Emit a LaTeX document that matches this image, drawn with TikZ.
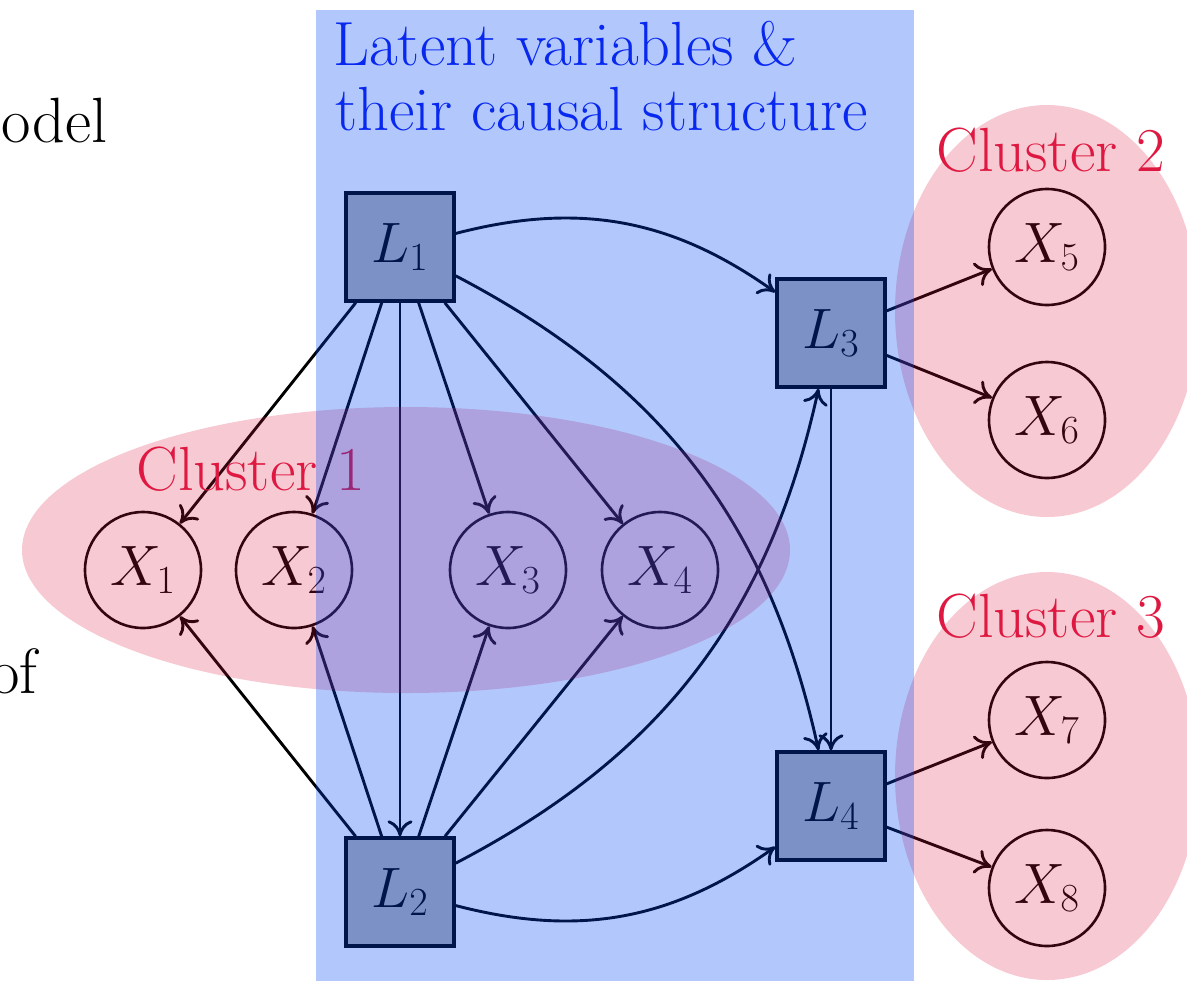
\RequirePackage{fix-cm}
\documentclass[tikz,border=0pt]{standalone}
\usetikzlibrary{arrows.meta}
\definecolor{pinkc}{RGB}{222,24,66}
\definecolor{bluec}{RGB}{0,72,245}
\definecolor{titlec}{RGB}{8,40,240}
\definecolor{clusc}{RGB}{222,24,64}
\begin{document}
\begin{tikzpicture}[x=0.5pt,y=-0.5pt,
  lat/.style={draw=black,fill=black!30,line width=1.7pt,minimum size=54pt,inner sep=0pt,font=\fontsize{28.5}{30}\selectfont},
  obs/.style={circle,draw=black,line width=1.3pt,minimum size=58pt,inner sep=0pt,font=\fontsize{28.5}{30}\selectfont},
  edge/.style={line width=1.45pt,-{Computer Modern Rightarrow[length=8pt,width=12.5pt]}},
  lbl/.style={font=\fontsize{31.2}{32.5}\selectfont,anchor=base west,inner sep=0pt},
  side/.style={font=\fontsize{32}{34}\selectfont,anchor=base east,inner sep=0pt,text=black},
  pinkblob/.style={fill=pinkc,opacity=0.23},
  bluebox/.style={fill=bluec,opacity=0.3}
]
\useasboundingbox (0,0) rectangle (1187,980);
\clip (0,0) rectangle (1187,980);

% side text (cut off at the left)
\node[side] (model) at (108,142) {model};
\node[side] (of) at (38,693) {of};

% latent nodes
\node[lat] (L1) at (400,247) {$L_1$};
\node[lat] (L2) at (400,892) {$L_2$};
\node[lat] (L3) at (831,333) {$L_3$};
\node[lat] (L4) at (831,806) {$L_4$};

% observed nodes
\node[obs] (X1) at (143,570) {$X_1$};
\node[obs] (X2) at (294,570) {$X_2$};
\node[obs] (X3) at (508,570) {$X_3$};
\node[obs] (X4) at (660,570) {$X_4$};
\node[obs] (X5) at (1047,247) {$X_5$};
\node[obs] (X6) at (1047,420) {$X_6$};
\node[obs] (X7) at (1047,720) {$X_7$};
\node[obs] (X8) at (1047,888) {$X_8$};

% edges
\foreach \t in {X1,X2,X3,X4,L2} \draw[edge] (L1) -- (\t);
\foreach \t in {X1,X2,X3,X4} \draw[edge] (L2) -- (\t);
\draw[edge] (L1) to[bend left=25] (L3);
\draw[edge] (L1) to[bend left=25] (L4);
\draw[edge] (L2) to[bend right=25] (L3);
\draw[edge] (L2) to[bend right=25] (L4);
\draw[edge] (L3) -- (L4);
\draw[edge] (L3) -- (X5);
\draw[edge] (L3) -- (X6);
\draw[edge] (L4) -- (X7);
\draw[edge] (L4) -- (X8);

% clusters
\path[pinkblob] (406,550) ellipse [x radius=192pt, y radius=71.5pt];
\path[pinkblob] (1047,311) ellipse [x radius=76pt, y radius=103pt];
\path[pinkblob] (1047,776) ellipse [x radius=76pt, y radius=102pt];
\node[lbl,text=clusc] (c1) at (136,490) {Cluster 1};
\node[lbl,text=clusc] (c2) at (936,171) {Cluster 2};
\node[lbl,text=clusc] (c3) at (936,637) {Cluster 3};

% latent box
\path[bluebox] (316,10) rectangle (914,990);
\node[lbl,text=titlec] (t1) at (333,65) {Latent variables \&};
\node[lbl,text=titlec] (t2) at (335,130) {their causal structure};
\end{tikzpicture}
\end{document}
